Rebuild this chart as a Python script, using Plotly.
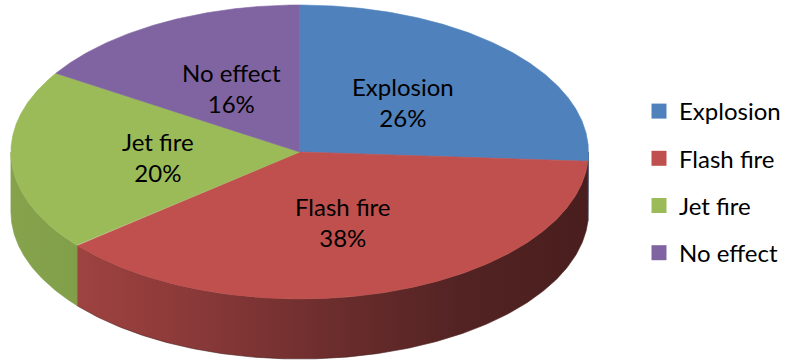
import numpy as np
import plotly.graph_objects as go

# ---- data ----
categories = ["Explosion", "Flash fire", "Jet fire", "No effect"]
values = [26, 38, 20, 16]

# ---- styles ----
top_colors = ["#4F81BD", "#C0504D", "#9BBB59", "#8064A2"]
side_scales = [
    [[0, "#3A5F8C"], [1, "#2C4A6E"]],
    [[0, "#9E4340"], [0.25, "#883838"], [0.5, "#6C2D2D"], [0.75, "#532323"], [1, "#4A1E1E"]],
    [[0, "#86A34C"], [1, "#819E49"]],
    [[0, "#5E4A78"], [1, "#4C3C62"]],
]
FONT = "Lato"
W, H = 786, 360
CX, CY, RX, RY, DEPTH = 302, 152, 291, 147, 60

total = float(sum(values))


def pt(theta_deg, dy=0.0):
    t = np.radians(theta_deg)
    return CX + RX * np.sin(t), CY - RY * np.cos(t) + dy


bounds = []
s = 0.0
for v in values:
    e = s + 360.0 * v / total
    bounds.append((s, e))
    s = e

fig = go.Figure()

# side faces (front half only)
for i, (a, b) in enumerate(bounds):
    lo, hi = max(a, 90.0), min(b, 270.0)
    if hi > lo:
        th = np.linspace(lo, hi, 240)
        xt, yt = pt(th)
        xb, yb = pt(th[::-1], DEPTH)
        xs = np.concatenate([xt, xb, xt[:1]])
        ys = np.concatenate([yt, yb, yt[:1]])
        fig.add_trace(go.Scatter(
            x=xs, y=ys, mode="lines", fill="toself",
            line=dict(width=0.6, color=side_scales[i][-1][1]),
            fillgradient=dict(type="horizontal", colorscale=side_scales[i]),
            showlegend=False, hoverinfo="skip"))

# top faces
for i, (a, b) in enumerate(bounds):
    th = np.linspace(a, b, 300)
    xa, ya = pt(th)
    xs = np.concatenate([[CX], xa, [CX]])
    ys = np.concatenate([[CY], ya, [CY]])
    fig.add_trace(go.Scatter(
        x=xs, y=ys, mode="lines", fill="toself",
        fillcolor=top_colors[i], line=dict(width=0.6, color=top_colors[i]),
        showlegend=False, hoverinfo="skip"))

# labels
annotations = []
for i, (a, b) in enumerate(bounds):
    m = (a + b) / 2
    t = np.radians(m)
    lx = CX + 0.49 * RX * np.sin(t)
    ly = CY - 0.5 * RY * np.cos(t)
    annotations.append(dict(
        x=lx, y=ly, xref="x", yref="y", showarrow=False,
        text=f"{categories[i]}<br>{values[i] / total * 100:.0f}%",
        font=dict(family=FONT, size=24, color="black"), align="center"))

# legend entries
for i, c in enumerate(categories):
    fig.add_trace(go.Scatter(
        x=[None], y=[None], mode="markers", name=c, legendgroup=str(i),
        marker=dict(symbol="square", size=15, color=top_colors[i])))

fig.update_layout(
    width=W, height=H, margin=dict(l=0, r=0, t=0, b=0),
    paper_bgcolor="white", plot_bgcolor="white",
    xaxis=dict(range=[0, W], visible=False, fixedrange=True),
    yaxis=dict(range=[H, 0], visible=False, fixedrange=True),
    annotations=annotations,
    showlegend=True,
    legend=dict(x=644 / W, xanchor="left", y=1 - 89 / H, yanchor="top",
                font=dict(family=FONT, size=24, color="black"),
                tracegroupgap=13, bgcolor="rgba(0,0,0,0)", itemwidth=30),
)

fig.write_html("out.html")
